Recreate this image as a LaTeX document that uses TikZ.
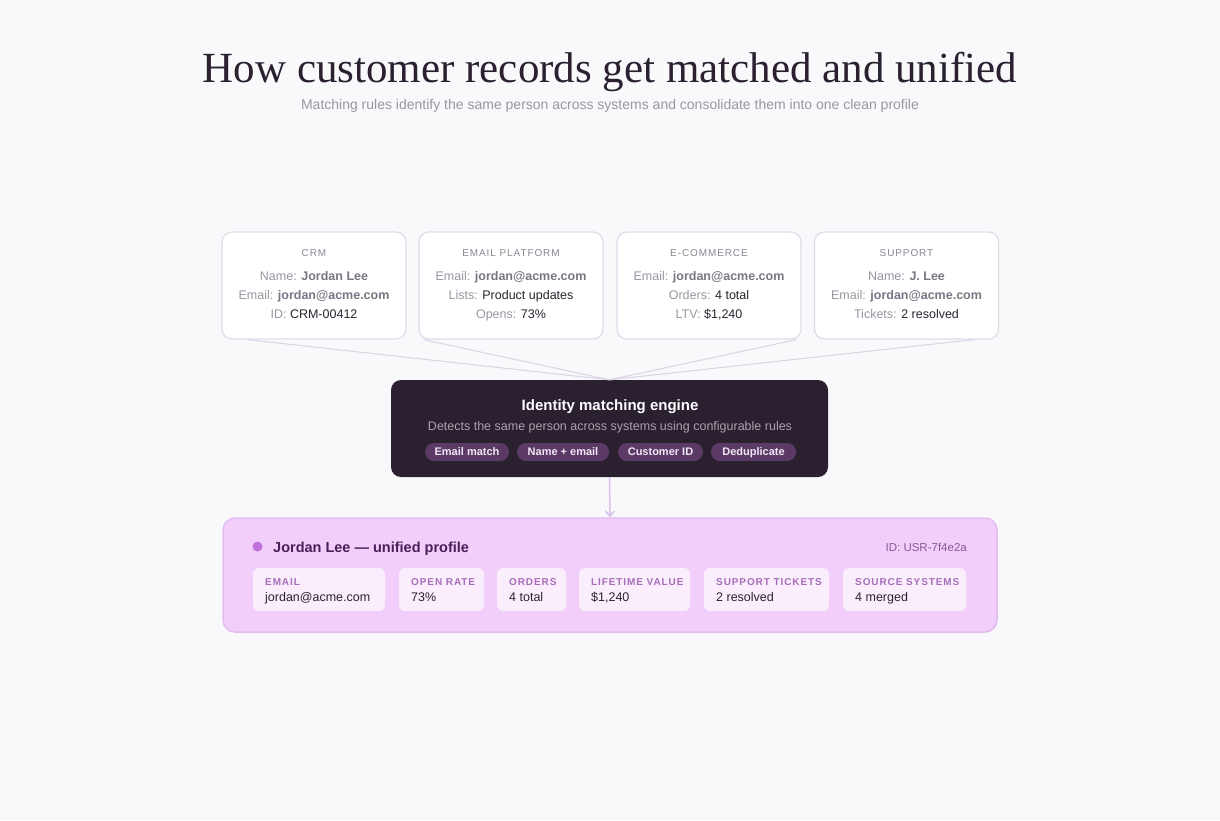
\documentclass[tikz,border=0pt]{standalone}
\usepackage{fontspec}
\setmainfont{Liberation Sans}
\newfontfamily\titlefont{Liberation Serif}
\newfontfamily\capsfont[LetterSpace=9]{Liberation Sans}
\usetikzlibrary{arrows.meta,calc}
\definecolor{bg}{HTML}{F9F9FB}
\definecolor{titlec}{HTML}{2A2030}
\definecolor{subc}{HTML}{9A96A2}
\definecolor{cardborder}{HTML}{E0DCE8}
\definecolor{hdrc}{HTML}{8A8692}
\definecolor{lblc}{HTML}{9A96A2}
\definecolor{boldc}{HTML}{7A7582}
\definecolor{valc}{HTML}{2A2330}
\definecolor{linkc}{HTML}{DDD5E6}
\definecolor{engfill}{HTML}{2B2030}
\definecolor{engsub}{HTML}{A9A2AE}
\definecolor{pillfill}{HTML}{5B3A66}
\definecolor{pilltext}{HTML}{F2E6F6}
\definecolor{arrowc}{HTML}{D8C0EE}
\definecolor{proffill}{HTML}{F1CFFA}
\definecolor{profborder}{HTML}{E2BDF2}
\definecolor{dotc}{HTML}{C070D8}
\definecolor{proftitle}{HTML}{4A1F5A}
\definecolor{idc}{HTML}{8A5A9A}
\definecolor{fieldfill}{HTML}{FBEEFC}
\definecolor{fieldlbl}{HTML}{A66EB8}
\tikzset{
  x=1pt, y=-1pt,
  srcbox/.style={draw=cardborder, line width=1.2pt, fill=white, rounded corners=10pt, minimum width=184pt, minimum height=107pt, inner sep=0pt},
  hdr/.style={anchor=base, inner sep=0pt, text=hdrc, font=\capsfont\fontsize{10}{12}\selectfont},
  srcline/.style={anchor=base, inner sep=0pt, text=lblc, font=\fontsize{12.5}{15}\selectfont},
  link/.style={draw=linkc, line width=1.1pt},
  pill/.style={fill=pillfill, rounded corners=9pt, minimum height=18pt, inner sep=0pt, text height=9.5pt, text depth=2pt, text=pilltext, font=\bfseries\fontsize{11}{13}\selectfont},
  fieldbox/.style={fill=fieldfill, rounded corners=6pt, inner sep=0pt},
  flbl/.style={anchor=base west, inner sep=0pt, text=fieldlbl, font=\capsfont\bfseries\fontsize{10}{12}\selectfont},
  fval/.style={anchor=base west, inner sep=0pt, text=valc, font=\fontsize{12.5}{15}\selectfont},
}
\newcommand\bv[1]{\textbf{\color{boldc}#1}}
\newcommand\dv[1]{{\color{valc}#1}}
\newcommand\srccard[6]{%
  \node[srcbox] (#1) at (#2,285.5) {};
  \node[hdr] (#1-h) at (#2,256.5) {#3};
  \node[srcline] (#1-a) at (#2,280.5) {#4};
  \node[srcline] (#1-b) at (#2,299.5) {#5};
  \node[srcline] (#1-c) at (#2,318.5) {#6};
}
\newcommand\field[5]{%
  \path[fieldbox] (#2,568) rectangle (#3,611);
  \node[flbl] (#1-l) at ({#2+12},585) {#4};
  \node[fval] (#1-v) at ({#2+12},601.5) {#5};
}
\begin{document}
\begin{tikzpicture}
\path[fill=bg] (0,0) rectangle (1220,820);
\useasboundingbox (0,0) rectangle (1220,820);

% title
\node[anchor=base, inner sep=0pt, text=titlec, font=\titlefont\fontsize{43}{50}\selectfont] (title) at (610,82) {How customer records get matched and unified};
\node[anchor=base, inner sep=0pt, text=subc, font=\fontsize{14}{17}\selectfont] (subtitle) at (610,109) {Matching rules identify the same person across systems and consolidate them into one clean profile};

% source cards
\srccard{crm}{314}{CRM}{Name: \bv{Jordan Lee}}{Email: \bv{jordan@acme.com}}{ID: \dv{CRM-00412}}
\srccard{email}{511}{EMAIL PLATFORM}{Email: \bv{jordan@acme.com}}{Lists: \dv{Product updates}}{Opens: \dv{73\%}}
\srccard{ecom}{709}{E-COMMERCE}{Email: \bv{jordan@acme.com}}{Orders: \dv{4 total}}{LTV: \dv{\$1,240}}
\srccard{supp}{906.5}{SUPPORT}{Name: \bv{J. Lee}}{Email: \bv{jordan@acme.com}}{Tickets: \dv{2 resolved}}

% engine
\node[fill=engfill, rounded corners=10pt, minimum width=437pt, minimum height=97pt, inner sep=0pt] (engine) at (609.5,428.5) {};
\node[anchor=base, inner sep=0pt, text=white, font=\bfseries\fontsize{15}{18}\selectfont] (eng-t) at (610,410) {Identity matching engine};
\node[anchor=base, inner sep=0pt, text=engsub, font=\fontsize{12.5}{15}\selectfont] (eng-s) at (610,430.5) {Detects the same person across systems using configurable rules};
\node[pill, minimum width=84pt] (p1) at (467,452) {Email match};
\node[pill, minimum width=92pt] (p2) at (563,452) {Name + email};
\node[pill, minimum width=85pt] (p3) at (660.5,452) {Customer ID};
\node[pill, minimum width=85pt] (p4) at (753.5,452) {Deduplicate};

% connectors
\draw[link] ($(crm.south west)+(26,0)$) -- (engine.north);
\draw[link] ($(email.south west)+(5,0)$) -- (engine.north);
\draw[link] ($(ecom.south east)+(-5,0)$) -- (engine.north);
\draw[link] ($(supp.south east)+(-25,0)$) -- (engine.north);

% profile
\node[draw=profborder, line width=1.5pt, fill=proffill, rounded corners=12pt, minimum width=774pt, minimum height=114pt, inner sep=0pt] (profile) at (610,575) {};
\draw[draw=arrowc, line width=1.5pt, -{Straight Barb[length=5pt,width=9pt]}] (engine.south) -- (profile.north);
\fill[dotc] (257.5,546.5) circle (5pt);
\node[anchor=base west, inner sep=0pt, text=proftitle, font=\bfseries\fontsize{14.5}{17}\selectfont] (prof-t) at (273,552) {Jordan Lee — unified profile};
\node[anchor=base east, inner sep=0pt, text=idc, font=\fontsize{11.5}{14}\selectfont] (prof-id) at (967,551) {ID: USR-7f4e2a};

\field{f1}{253}{385}{EMAIL}{jordan@acme.com}
\field{f2}{399}{484}{OPEN RATE}{73\%}
\field{f3}{497}{566}{ORDERS}{4 total}
\field{f4}{579}{690}{LIFETIME VALUE}{\$1,240}
\field{f5}{704}{829}{SUPPORT TICKETS}{2 resolved}
\field{f6}{843}{966}{SOURCE SYSTEMS}{4 merged}
\end{tikzpicture}
\end{document}
